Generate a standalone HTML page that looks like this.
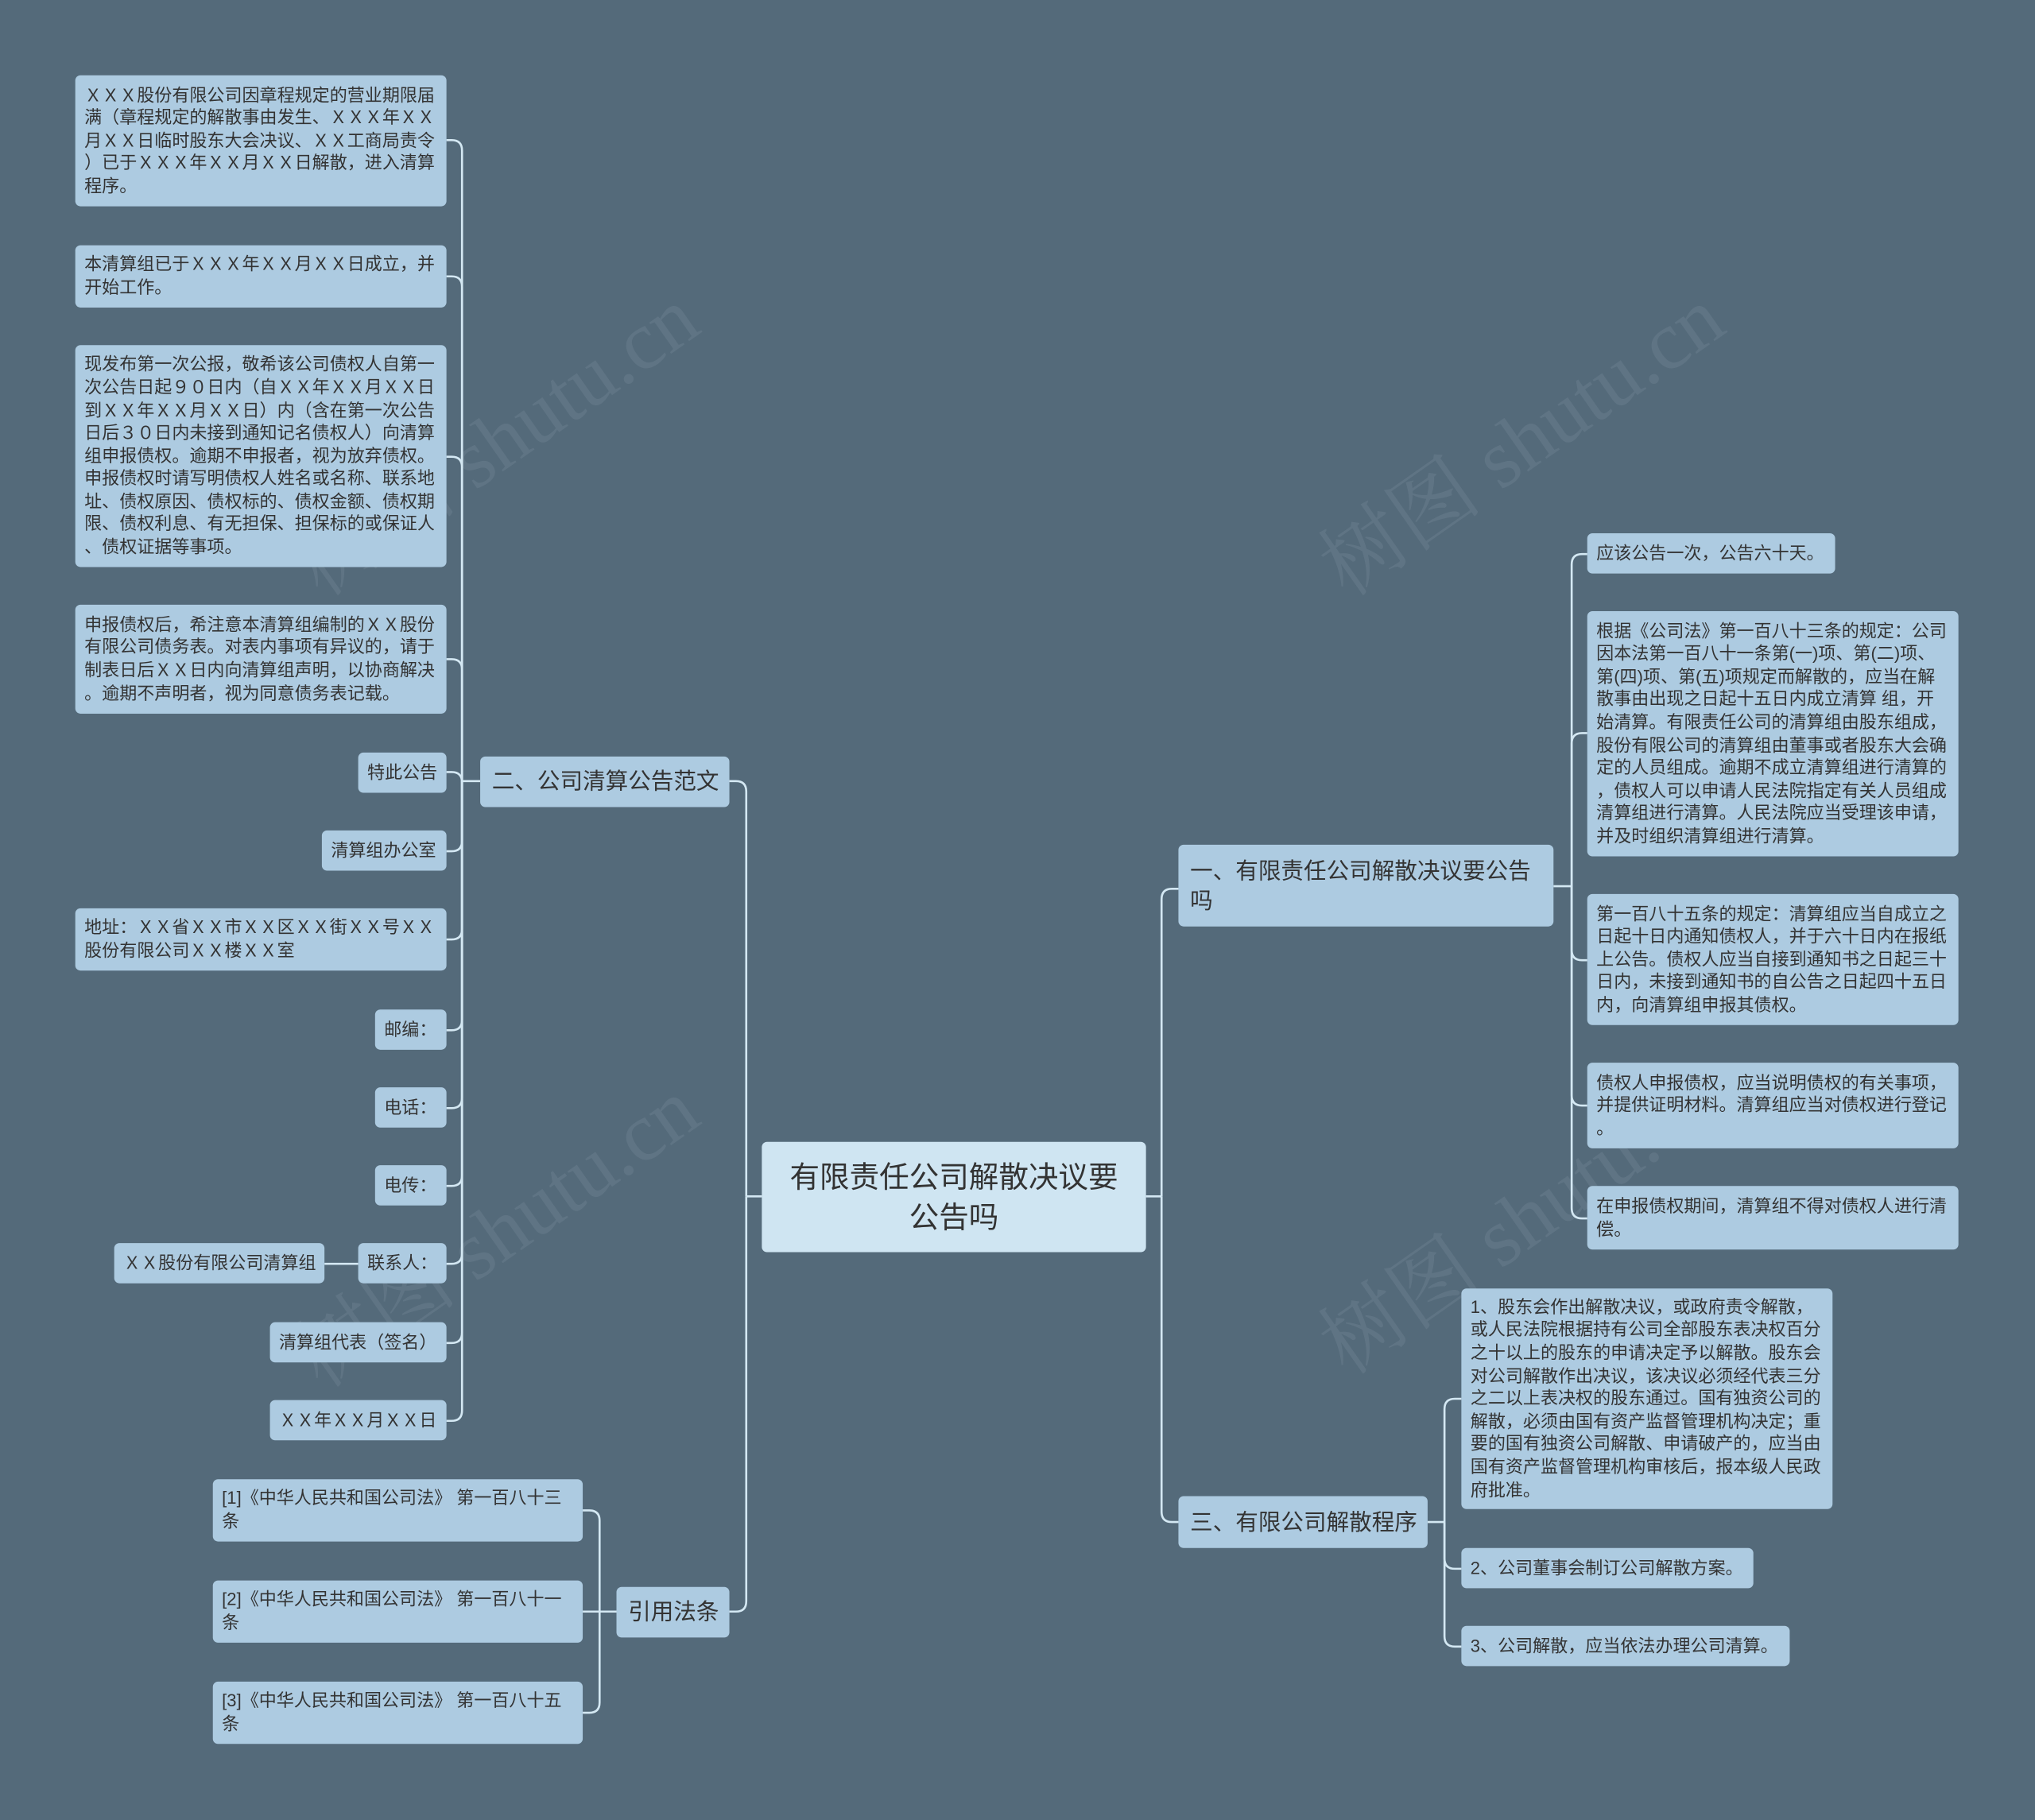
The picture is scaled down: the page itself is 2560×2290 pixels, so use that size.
<!DOCTYPE html>
<html><head><meta charset="utf-8"><style>
html,body{margin:0;padding:0;background:#546a7a;}
#wrap{position:absolute;left:0;top:0;width:2560px;height:2290px;overflow:hidden;background:#546a7a;}
#s{position:absolute;left:0;top:0;width:1568px;height:1403px;transform:scale(1.63265);transform-origin:0 0;font-family:"Liberation Sans","Noto Sans CJK SC",sans-serif;}
.n{position:absolute;box-sizing:border-box;background:#adcbe1;border-radius:4px;color:#333;font-size:13.5px;line-height:17.6px;padding:0 7px;display:flex;align-items:center;white-space:nowrap;}
.b{font-size:17.5px;line-height:23px;padding:0 9px;}
.r{background:#cfe5f2;font-size:23px;line-height:31px;justify-content:center;text-align:center;}
.wm{position:absolute;color:#6d8190;opacity:.45;font-size:64px;font-family:"Liberation Serif","Noto Serif CJK SC",serif;transform:rotate(-35deg);white-space:nowrap;}
svg{position:absolute;left:0;top:0;}
</style></head><body><div id="wrap"><div id="s">
<div class="wm" style="left:200px;top:290px;">树图 shutu.cn</div>
<div class="wm" style="left:200px;top:900px;">树图 shutu.cn</div>
<div class="wm" style="left:990px;top:290px;">树图 shutu.cn</div>
<div class="wm" style="left:990px;top:890px;">树图 shutu.cn</div>
<svg width="1568" height="1403" fill="none" stroke="#d4e8f3" stroke-width="1.6">
<path d="M587 922 H575"/>
<path d="M575 922 V610 Q575 602 567 602 H562"/>
<path d="M575 922 V1234 Q575 1242 567 1242 H562"/>
<path d="M883 922 H895"/>
<path d="M895 922 V693 Q895 685 903 685 H908"/>
<path d="M895 922 V1165 Q895 1173 903 1173 H908"/>
<path d="M370 602 H356"/>
<g>
<path d="M356 602 V116 Q356 108 348 108 H344"/>
<path d="M356 602 V221 Q356 213 348 213 H344"/>
<path d="M356 602 V360 Q356 352 348 352 H344"/>
<path d="M356 602 V516 Q356 508 348 508 H344"/>
<path d="M356 602 V603 Q356 595 348 595 H344"/>
<path d="M356 602 V648 Q356 656 348 656 H344"/>
<path d="M356 602 V716 Q356 724 348 724 H344"/>
<path d="M356 602 V786 Q356 794 348 794 H344"/>
<path d="M356 602 V846 Q356 854 348 854 H344"/>
<path d="M356 602 V906 Q356 914 348 914 H344"/>
<path d="M356 602 V966 Q356 974 348 974 H344"/>
<path d="M356 602 V1027 Q356 1035 348 1035 H344"/>
<path d="M356 602 V1087 Q356 1095 348 1095 H344"/>
</g>
<path d="M276 974 H250"/>
<path d="M475 1242 H462"/>
<path d="M462 1242 V1172 Q462 1164 454 1164 H449"/>
<path d="M462 1242 H449"/>
<path d="M462 1242 V1312 Q462 1320 454 1320 H449"/>
<path d="M1197 683 H1211"/>
<path d="M1211 683 V435 Q1211 427 1219 427 H1223"/>
<path d="M1211 683 V573 Q1211 565 1219 565 H1223"/>
<path d="M1211 683 V732 Q1211 740 1219 740 H1223"/>
<path d="M1211 683 V844 Q1211 852 1219 852 H1223"/>
<path d="M1211 683 V931 Q1211 939 1219 939 H1223"/>
<path d="M1100 1173 H1113"/>
<path d="M1113 1173 V1086 Q1113 1078 1121 1078 H1126"/>
<path d="M1113 1173 V1201 Q1113 1209 1121 1209 H1126"/>
<path d="M1113 1173 V1261 Q1113 1269 1121 1269 H1126"/>
</svg>

<div class="n r" style="left:587px;top:880px;width:296px;height:85px;">有限责任公司解散决议要<br>公告吗</div>

<div class="n b" style="left:370px;top:583px;width:192px;height:39px;">二、公司清算公告范文</div>
<div class="n b" style="left:475px;top:1223px;width:87px;height:39px;">引用法条</div>
<div class="n b" style="left:908px;top:651px;width:289px;height:63px;">一、有限责任公司解散决议要公告<br>吗</div>
<div class="n b" style="left:908px;top:1153px;width:192px;height:40px;">三、有限公司解散程序</div>

<div class="n" style="left:58px;top:58px;width:286px;height:101px;">ＸＸＸ股份有限公司因章程规定的营业期限届<br>满（章程规定的解散事由发生、ＸＸＸ年ＸＸ<br>月ＸＸ日临时股东大会决议、ＸＸ工商局责令<br>）已于ＸＸＸ年ＸＸ月ＸＸ日解散，进入清算<br>程序。</div>
<div class="n" style="left:58px;top:189px;width:286px;height:48px;">本清算组已于ＸＸＸ年ＸＸ月ＸＸ日成立，并<br>开始工作。</div>
<div class="n" style="left:58px;top:266px;width:286px;height:171px;">现发布第一次公报，敬希该公司债权人自第一<br>次公告日起９０日内（自ＸＸ年ＸＸ月ＸＸ日<br>到ＸＸ年ＸＸ月ＸＸ日）内（含在第一次公告<br>日后３０日内未接到通知记名债权人）向清算<br>组申报债权。逾期不申报者，视为放弃债权。<br>申报债权时请写明债权人姓名或名称、联系地<br>址、债权原因、债权标的、债权金额、债权期<br>限、债权利息、有无担保、担保标的或保证人<br>、债权证据等事项。</div>
<div class="n" style="left:58px;top:466px;width:286px;height:84px;">申报债权后，希注意本清算组编制的ＸＸ股份<br>有限公司债务表。对表内事项有异议的，请于<br>制表日后ＸＸ日内向清算组声明，以协商解决<br>。逾期不声明者，视为同意债务表记载。</div>
<div class="n" style="left:276px;top:580px;width:68px;height:31px;">特此公告</div>
<div class="n" style="left:248px;top:640px;width:96px;height:31px;">清算组办公室</div>
<div class="n" style="left:58px;top:700px;width:286px;height:48px;">地址：ＸＸ省ＸＸ市ＸＸ区ＸＸ街ＸＸ号ＸＸ<br>股份有限公司ＸＸ楼ＸＸ室</div>
<div class="n" style="left:289px;top:778px;width:55px;height:31px;">邮编：</div>
<div class="n" style="left:289px;top:838px;width:55px;height:31px;">电话：</div>
<div class="n" style="left:289px;top:898px;width:55px;height:31px;">电传：</div>
<div class="n" style="left:276px;top:958px;width:68px;height:31px;">联系人：</div>
<div class="n" style="left:88px;top:958px;width:162px;height:31px;">ＸＸ股份有限公司清算组</div>
<div class="n" style="left:208px;top:1019px;width:136px;height:31px;">清算组代表（签名）</div>
<div class="n" style="left:208px;top:1079px;width:136px;height:31px;">ＸＸ年ＸＸ月ＸＸ日</div>

<div class="n" style="left:164px;top:1140px;width:285px;height:48px;">[1]《中华人民共和国公司法》 第一百八十三<br>条</div>
<div class="n" style="left:164px;top:1218px;width:285px;height:48px;">[2]《中华人民共和国公司法》 第一百八十一<br>条</div>
<div class="n" style="left:164px;top:1296px;width:285px;height:48px;">[3]《中华人民共和国公司法》 第一百八十五<br>条</div>

<div class="n" style="left:1223px;top:411px;width:191px;height:31px;">应该公告一次，公告六十天。</div>
<div class="n" style="left:1223px;top:471px;width:286px;height:189px;">根据《公司法》第一百八十三条的规定：公司<br>因本法第一百八十一条第(一)项、第(二)项、<br>第(四)项、第(五)项规定而解散的，应当在解<br>散事由出现之日起十五日内成立清算 组，开<br>始清算。有限责任公司的清算组由股东组成，<br>股份有限公司的清算组由董事或者股东大会确<br>定的人员组成。逾期不成立清算组进行清算的<br>，债权人可以申请人民法院指定有关人员组成<br>清算组进行清算。人民法院应当受理该申请，<br>并及时组织清算组进行清算。</div>
<div class="n" style="left:1223px;top:689px;width:286px;height:101px;">第一百八十五条的规定：清算组应当自成立之<br>日起十日内通知债权人，并于六十日内在报纸<br>上公告。债权人应当自接到通知书之日起三十<br>日内，未接到通知书的自公告之日起四十五日<br>内，向清算组申报其债权。</div>
<div class="n" style="left:1223px;top:819px;width:286px;height:66px;">债权人申报债权，应当说明债权的有关事项，<br>并提供证明材料。清算组应当对债权进行登记<br>。</div>
<div class="n" style="left:1223px;top:914px;width:286px;height:49px;">在申报债权期间，清算组不得对债权人进行清<br>偿。</div>

<div class="n" style="left:1126px;top:993px;width:286px;height:170px;">1、股东会作出解散决议，或政府责令解散，<br>或人民法院根据持有公司全部股东表决权百分<br>之十以上的股东的申请决定予以解散。股东会<br>对公司解散作出决议，该决议必须经代表三分<br>之二以上表决权的股东通过。国有独资公司的<br>解散，必须由国有资产监督管理机构决定；重<br>要的国有独资公司解散、申请破产的，应当由<br>国有资产监督管理机构审核后，报本级人民政<br>府批准。</div>
<div class="n" style="left:1126px;top:1193px;width:225px;height:31px;">2、公司董事会制订公司解散方案。</div>
<div class="n" style="left:1126px;top:1253px;width:253px;height:31px;">3、公司解散，应当依法办理公司清算。</div>
</div></div></body></html>
